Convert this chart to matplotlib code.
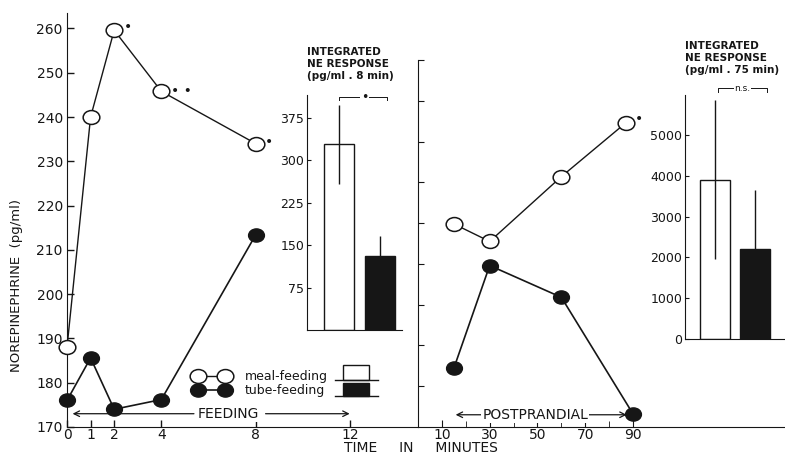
import matplotlib
matplotlib.use("Agg")
import matplotlib.pyplot as plt
from matplotlib.markers import MarkerStyle
from matplotlib.transforms import Affine2D
from matplotlib.patches import Rectangle

# feeding period (min)
feed_t = [0, 1, 2, 4, 8]
feed_meal = [188, 240, 259.6, 245.8, 234]
feed_tube = [176, 185.6, 174, 176.2, 213.4]

# postprandial period (min)
post_t_meal = [15, 30, 60, 87]
post_meal = [219.8, 215.5, 231.4, 244.6]
post_t_tube = [15, 30, 60, 90]
post_tube = [184.4, 209.6, 201.8, 173.2]

# integrated NE response
bar_groups = ["meal-feeding", "tube-feeding"]
int8_mean = [328, 130]
int8_err = [70, 36]
int75_mean = [3900, 2200]
int75_err = [1950, 1450]

feed_ticks = [0, 1, 2, 4, 8, 12]
post_ticks = [10, 30, 50, 70, 90]
norepi_ticks = list(range(170, 261, 10))

ink = "#161616"
plt.rcParams["font.family"] = "DejaVu Sans"
plt.rcParams["text.color"] = ink
plt.rcParams["axes.edgecolor"] = ink
plt.rcParams["xtick.color"] = ink
plt.rcParams["ytick.color"] = ink

W, H = 785, 454
fig = plt.figure(figsize=(W / 100, H / 100), dpi=100)


def box(x0, y_top, x1, y_bot):
    return [x0 / W, (H - y_bot) / H, (x1 - x0) / W, (y_bot - y_top) / H]


oval = MarkerStyle("o", transform=Affine2D().scale(1.2, 1.0))
open_style = dict(color=ink, lw=1, marker=oval, ms=10, mfc="white", mec=ink, mew=1.1)
fill_style = dict(color=ink, lw=1.2, marker=oval, ms=9.5, mfc=ink, mec=ink)

# ---- feeding panel
ax1 = fig.add_axes(box(67, 13, 418, 427))
ax1.plot(feed_t, feed_meal, label="meal-feeding", zorder=3, clip_on=False, **open_style)
ax1.plot(feed_t, feed_tube, label="tube-feeding", zorder=3, clip_on=False, **fill_style)
ax1.set_xlim(0, 14.88)
ax1.set_ylim(170, 263.5)
ax1.set_xticks(feed_ticks)
ax1.set_yticks(norepi_ticks)
ax1.tick_params(direction="in", length=5, width=1, labelsize=10, pad=3)
ax1.tick_params(axis="x", pad=1)
ax1.spines[["top", "right"]].set_visible(False)
ax1.set_facecolor("none")

for x, y, s in [(2.59, 260.3, "•"), (4.87, 245.9, "• •"), (8.58, 234.3, "•")]:
    ax1.text(x, y, s, fontsize=10, va="center", ha="center")

ax1.annotate("", xy=(0.12, 173), xytext=(5.5, 173),
             arrowprops=dict(arrowstyle="->", color=ink, lw=0.9))
ax1.annotate("", xy=(12.1, 173), xytext=(8.3, 173),
             arrowprops=dict(arrowstyle="->", color=ink, lw=0.9))
ax1.text(6.85, 173, "FEEDING", fontsize=10, ha="center", va="center",
         bbox=dict(fc="white", ec="none", pad=1))

ax1.legend(loc="center left", bbox_to_anchor=(0.362, 0.105), numpoints=2,
           handlelength=2.76, handletextpad=1.3, labelspacing=0.1,
           frameon=False, fontsize=9, borderpad=0, borderaxespad=0)
for yb, h, fc in [(0.1135, 0.036, "white"), (0.0749, 0.031, ink)]:
    ax1.add_patch(Rectangle((0.786, yb), 0.073, h, transform=ax1.transAxes,
                            fc=fc, ec=ink, lw=1, clip_on=False))
    ax1.plot([0.764, 0.886], [yb, yb], color=ink, lw=1, transform=ax1.transAxes,
             clip_on=False)

# ---- postprandial panel
ax2 = fig.add_axes(box(418, 60, 785, 427))
ax2.plot(post_t_meal, post_meal, zorder=3, clip_on=False, **open_style)
ax2.plot(post_t_tube, post_tube, zorder=3, clip_on=False, **fill_style)
ax2.set_xlim(0, 153.6)
ax2.set_ylim(170, 252.8)
ax2.set_xticks(post_ticks)
ax2.set_xticks([20, 40, 60, 80], minor=True)
ax2.set_yticks(norepi_ticks[1:])
ax2.tick_params(axis="y", direction="in", length=4, labelleft=False)
ax2.tick_params(axis="x", direction="in", length=5, labelsize=10, pad=1)
ax2.tick_params(axis="x", which="minor", direction="in", length=4)
ax2.spines[["top", "right"]].set_visible(False)
ax2.set_facecolor("none")
ax2.text(92.5, 245.6, "•", fontsize=10, va="center", ha="center")

ax2.annotate("", xy=(14.6, 173), xytext=(30, 173),
             arrowprops=dict(arrowstyle="->", color=ink, lw=0.9))
ax2.annotate("", xy=(88.5, 173), xytext=(70, 173),
             arrowprops=dict(arrowstyle="->", color=ink, lw=0.9))
ax2.text(49, 173, "POSTPRANDIAL", fontsize=10, ha="center", va="center",
         bbox=dict(fc="white", ec="none", pad=1))

# ---- integrated response insets
pos = [1, 2]

ins1 = fig.add_axes(box(307, 95, 402, 330))
ins1.bar(pos, int8_mean, width=0.72, color=["white", ink], edgecolor=ink, lw=1)
ins1.errorbar(pos, int8_mean, yerr=int8_err, fmt="none", ecolor=ink, elinewidth=1,
              capsize=0)
ins1.set_xlim(0.22, 2.54)
ins1.set_ylim(0, 415)
ins1.set_xticks([])
ins1.set_yticks([75, 150, 225, 300, 375])
ins1.tick_params(direction="in", length=3, labelsize=9, pad=2)
ins1.spines[["top", "right"]].set_visible(False)
ins1.set_facecolor("none")
ins1.plot([1.0, 1.0, 2.17, 2.17], [406, 411, 411, 406], color=ink, lw=0.7, clip_on=False)
ins1.text(1.63, 411, "•", fontsize=9, ha="center", va="center",
          bbox=dict(fc="white", ec="none", pad=0.5))
ins1.text(0.0, 1.06, "INTEGRATED\nNE RESPONSE\n(pg/ml . 8 min)", transform=ins1.transAxes,
          fontsize=7.5, fontweight="bold", ha="left", va="bottom", linespacing=1.25)

ins2 = fig.add_axes(box(685, 95, 785, 339))
ins2.bar(pos, int75_mean, width=0.75, color=["white", ink], edgecolor=ink, lw=1)
ins2.errorbar(pos, int75_mean, yerr=int75_err, fmt="none", ecolor=ink, elinewidth=1,
              capsize=0)
ins2.set_xlim(0.25, 2.75)
ins2.set_ylim(0, 5980)
ins2.set_xticks([])
ins2.set_yticks([0, 1000, 2000, 3000, 4000, 5000])
ins2.tick_params(direction="in", length=3, labelsize=9, pad=2)
ins2.spines[["top", "right"]].set_visible(False)
ins2.set_facecolor("none")
ins2.plot([1.07, 1.07, 2.3, 2.3], [6050, 6150, 6150, 6050], color=ink, lw=0.7,
          clip_on=False)
ins2.text(1.69, 6150, "n.s.", fontsize=6.5, ha="center", va="center",
          bbox=dict(fc="white", ec="none", pad=0.5))
ins2.text(0.0, 1.08, "INTEGRATED\nNE RESPONSE\n(pg/ml . 75 min)", transform=ins2.transAxes,
          fontsize=7.5, fontweight="bold", ha="left", va="bottom", linespacing=1.25)

fig.text(17 / W, (H - 285) / H, "NOREPINEPHRINE  (pg/ml)", rotation=90,
         fontsize=9.5, ha="center", va="center")
fig.text(421 / W, 1.5 / H, "TIME     IN     MINUTES", fontsize=10,
         ha="center", va="baseline")

fig.savefig("out.png", dpi=100)
